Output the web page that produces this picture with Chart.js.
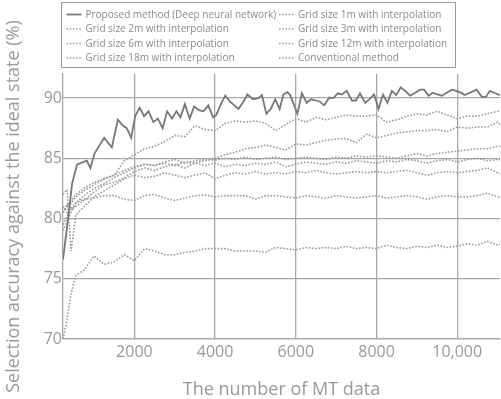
<!DOCTYPE html>
<html>
<head>
<meta charset="utf-8">
<script src="https://cdn.jsdelivr.net/npm/chart.js@4.4.0/dist/chart.umd.min.js"></script>
<style>
  html, body { margin: 0; padding: 0; background: #fff; }
  #wrap { width: 501px; height: 399px; }
</style>
</head>
<body>
<div id="wrap"><canvas id="accChart" width="501" height="399"></canvas></div>
<script>
// tick labels
const xTicks = [2000, 4000, 6000, 8000, 10000];
const yTicks = [70, 75, 80, 85, 90];

// proposed method, read vertex by vertex
const propX = [230, 350, 455, 580, 820, 910, 1010, 1250, 1440, 1590, 1720, 1810, 1920, 2020, 2130, 2240, 2350, 2470, 2580, 2700, 2810, 2930, 3040, 3140, 3250, 3370, 3480, 3600, 3710, 3830, 3950, 4030, 4130, 4250, 4370, 4580, 4700, 4800, 4940, 5070, 5160, 5270, 5380, 5490, 5600, 5690, 5790, 5860, 6040, 6150, 6270, 6380, 6500, 6600, 6700, 6830, 6930, 7040, 7140, 7260, 7390, 7490, 7590, 7720, 7820, 7940, 8050, 8160, 8270, 8380, 8490, 8600, 8710, 8830, 8960, 9080, 9180, 9290, 9390, 9510, 9620, 9740, 9870, 9970, 10090, 10190, 10320, 10480, 10610, 10710, 10810, 10940, 11060];
const proposed = [76.6, 79.8, 82.9, 84.5, 84.8, 84.2, 85.4, 86.7, 85.9, 88.2, 87.7, 87.5, 86.7, 88.5, 89.2, 88.5, 88.9, 88.0, 88.3, 87.5, 88.9, 88.3, 88.9, 88.4, 89.5, 88.3, 89.3, 89.0, 88.9, 89.4, 88.4, 88.6, 89.4, 90.2, 89.7, 89.1, 89.7, 90.3, 89.9, 90.0, 90.25, 88.7, 89.1, 89.9, 89.1, 90.3, 90.5, 90.25, 88.7, 90.4, 89.6, 89.9, 89.8, 89.7, 89.4, 90.05, 90.0, 90.4, 90.3, 90.6, 89.8, 89.8, 90.4, 89.6, 89.9, 90.3, 89.1, 90.3, 89.6, 90.6, 90.25, 90.9, 90.6, 90.2, 90.45, 90.7, 90.7, 90.2, 90.45, 90.3, 90.2, 90.45, 90.7, 90.6, 90.45, 90.25, 90.45, 90.7, 90.1, 90.1, 90.6, 90.4, 90.25];

// grid based methods, read at these x positions
const gridX = [230, 330, 430, 550, 750, 1000, 1250, 1500, 1750, 2000, 2250, 2500, 2750, 3000, 3250, 3500, 3750, 4000, 4250, 4500, 4750, 5000, 5250, 5500, 5750, 6000, 6250, 6500, 6750, 7000, 7250, 7500, 7750, 8000, 8250, 8500, 8750, 9000, 9250, 9500, 9750, 10000, 10250, 10500, 10750, 11000, 11060];
const grid1m = [81.0, 80.5, 81.3, 81.8, 82.3, 82.8, 83.3, 83.6, 84.8, 85.3, 85.8, 86.0, 86.4, 86.9, 86.8, 87.7, 87.4, 87.3, 87.9, 88.1, 88.0, 88.1, 87.9, 87.3, 87.8, 88.3, 88.0, 88.4, 88.2, 88.4, 88.6, 88.5, 88.5, 88.6, 88.0, 88.2, 88.5, 88.7, 88.6, 88.9, 88.6, 88.3, 88.5, 88.5, 88.7, 88.9, 89.0];
const grid2m = [80.5, 81.0, 81.5, 82.0, 82.5, 83.0, 83.3, 83.6, 84.0, 84.3, 84.5, 84.4, 84.6, 84.4, 84.7, 84.6, 84.8, 85.0, 85.3, 85.5, 85.8, 85.9, 86.1, 85.9, 85.7, 86.2, 86.1, 86.3, 86.5, 86.6, 86.65, 86.3, 87.0, 86.7, 86.9, 87.1, 87.2, 87.3, 87.3, 87.4, 87.2, 87.6, 87.5, 87.6, 87.6, 88.0, 87.8];
const grid3m = [79.0, 79.8, 80.5, 81.3, 81.9, 82.5, 82.9, 83.4, 83.8, 84.2, 84.5, 84.4, 84.7, 84.9, 84.6, 84.8, 84.9, 84.85, 85.0, 84.9, 85.1, 84.9, 85.0, 85.1, 84.9, 85.0, 85.1, 85.0, 84.9, 85.1, 85.0, 85.2, 85.1, 85.2, 85.1, 85.0, 85.2, 85.4, 85.2, 85.4, 85.5, 85.6, 85.7, 85.8, 85.8, 86.0, 86.0];
const grid6m = [79.5, 80.2, 80.8, 81.0, 81.5, 82.2, 82.8, 83.0, 83.4, 83.9, 84.2, 84.0, 84.3, 84.5, 84.2, 84.6, 84.4, 84.6, 84.3, 84.5, 84.4, 84.6, 84.5, 84.7, 84.3, 84.5, 84.7, 84.6, 84.5, 84.7, 84.6, 84.8, 84.7, 84.6, 84.8, 84.7, 84.9, 84.8, 84.6, 84.8, 84.9, 84.7, 84.9, 85.0, 84.8, 84.9, 84.9];
const grid12m = [82.0, 82.4, 77.3, 80.3, 81.0, 81.8, 82.3, 82.8, 83.3, 83.6, 83.4, 83.5, 83.8, 83.6, 83.4, 83.6, 83.8, 83.3, 83.6, 83.8, 83.7, 83.9, 83.7, 83.8, 83.7, 83.9, 83.8, 84.0, 83.8, 83.7, 83.8, 83.9, 83.8, 83.9, 83.8, 83.9, 84.0, 83.8, 83.6, 83.8, 83.9, 83.8, 83.9, 84.0, 84.2, 83.8, 83.7];
const grid18m = [80.5, 81.2, 80.8, 81.3, 81.6, 81.7, 81.9, 81.9, 81.6, 81.5, 81.9, 82.0, 81.7, 81.5, 81.7, 81.9, 81.95, 81.8, 81.9, 81.9, 81.9, 81.6, 81.9, 81.9, 81.8, 81.7, 81.9, 81.8, 81.7, 81.9, 81.8, 81.7, 81.8, 81.9, 81.7, 81.8, 81.9, 81.8, 81.6, 81.8, 81.9, 81.8, 81.8, 81.9, 82.1, 81.8, 81.8];
const conventional = [70.0, 71.6, 73.8, 75.3, 75.7, 76.9, 76.2, 76.4, 77.0, 76.5, 77.5, 77.3, 77.0, 77.0, 77.2, 77.3, 77.5, 77.5, 77.5, 77.3, 77.3, 77.3, 77.2, 77.6, 77.5, 77.4, 77.6, 77.5, 77.6, 77.5, 77.7, 77.5, 77.6, 77.5, 77.8, 77.6, 77.5, 77.7, 77.6, 77.8, 77.6, 77.7, 77.9, 77.8, 78.1, 77.8, 77.9];

function pts(xs, ys) {
    return ys.map((y, i) => ({ x: xs[i], y: y }));
}

function dotted(label, ys) {
    return {
        label: label,
        data: pts(gridX, ys),
        borderColor: '#9a9a9a',
        borderWidth: 1.6,
        borderDash: [1.6, 1.6],
        pointRadius: 0,
        fill: false
    };
}

// legend in a framed box, two columns
const boxLegend = {
    id: 'boxLegend',
    afterDraw(chart) {
        const ctx = chart.ctx;
        ctx.save();
        ctx.strokeStyle = '#999';
        ctx.lineWidth = 1;
        ctx.strokeRect(61.5, 2.5, 394, 65);
        ctx.font = '10px "Open Sans"';
        ctx.textBaseline = 'middle';
        chart.data.datasets.forEach((ds, i) => {
            const x = (i % 2) ? 279 : 66.5;
            const y = 14.5 + Math.floor(i / 2) * 14.5;
            ctx.strokeStyle = ds.borderColor;
            ctx.lineWidth = ds.borderWidth;
            ctx.setLineDash(ds.borderDash || []);
            ctx.beginPath();
            ctx.moveTo(x, y);
            ctx.lineTo(x + 15, y);
            ctx.stroke();
            ctx.setLineDash([]);
            ctx.fillStyle = '#8a8a8a';
            ctx.fillText(ds.label, x + 19, y + 0.5);
        });
        ctx.restore();
    }
};

const gridColor = '#a8a8a8';
const textColor = '#999';

new Chart(document.getElementById('accChart').getContext('2d'), {
    type: 'line',
    data: {
        datasets: [
            {
                label: 'Proposed method (Deep neural network)',
                data: pts(propX, proposed),
                borderColor: '#777',
                borderWidth: 1.8,
                pointRadius: 0,
                fill: false
            },
            dotted('Grid size 1m with interpolation', grid1m),
            dotted('Grid size 2m with interpolation', grid2m),
            dotted('Grid size 3m with interpolation', grid3m),
            dotted('Grid size 6m with interpolation', grid6m),
            dotted('Grid size 12m with interpolation', grid12m),
            dotted('Grid size 18m with interpolation', grid18m),
            dotted('Conventional method', conventional)
        ]
    },
    options: {
        responsive: false,
        animation: false,
        layout: { padding: { top: 74, right: 1, left: 0, bottom: 0 } },
        plugins: {
            legend: { display: false },
            tooltip: { enabled: false }
        },
        scales: {
            x: {
                type: 'linear',
                min: 230,
                max: 11060,
                afterBuildTicks: s => { s.ticks = xTicks.map(v => ({ value: v })); },
                afterFit: s => { s.height = 60; },
                grid: { color: gridColor, lineWidth: 1.3, drawTicks: false },
                border: { color: gridColor, width: 1.3 },
                ticks: {
                    padding: 4,
                    color: textColor,
                    font: { family: 'Open Sans', size: 16 },
                    maxRotation: 0,
                    callback: v => v >= 10000 ? '10,000' : String(v)
                },
                title: {
                    display: true,
                    text: 'The number of MT data',
                    color: textColor,
                    font: { family: 'Open Sans', size: 18 },
                    padding: { top: 0, bottom: -2 }
                }
            },
            y: {
                min: 70,
                max: 92,
                afterBuildTicks: s => { s.ticks = yTicks.map(v => ({ value: v })); },
                afterFit: s => { s.width = 63; },
                grid: { color: gridColor, lineWidth: 1.3, drawTicks: false },
                border: { color: gridColor, width: 1.3 },
                ticks: {
                    padding: 1,
                    color: textColor,
                    font: { family: 'Open Sans', size: 16 }
                },
                title: {
                    display: true,
                    text: 'Selection accuracy against the ideal state (%)',
                    color: textColor,
                    font: { family: 'Open Sans', size: 18 },
                    padding: { top: 3, bottom: 0 }
                }
            }
        }
    },
    plugins: [boxLegend]
});
</script>
</body>
</html>
